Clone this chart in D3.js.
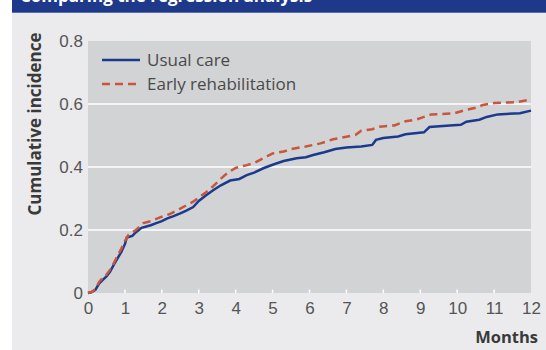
<!DOCTYPE html>
<html><head><meta charset="utf-8">
<script src="https://cdn.jsdelivr.net/npm/d3@7"></script>
<style>
html,body{margin:0;padding:0;background:#fff;}
svg{display:block;font-family:"Open Sans","Noto Sans",sans-serif;}
</style></head>
<body>
<script>
const titleText = "Comparing the regression analysis";
const yLabel = "Cumulative incidence";
const xLabel = "Months";
const seriesNames = ["Usual care", "Early rehabilitation"];
const xTicks = [0,1,2,3,4,5,6,7,8,9,10,11,12];
const yTicks = [0,0.2,0.4,0.6,0.8];
const yTickLabels = ["0","0.2","0.4","0.6","0.8"];

const usualMonths = [0,0.1,0.2,0.3,0.4,0.5,0.6,0.7,0.8,0.9,1.0,1.05,1.2,1.3,1.45,1.7,1.85,2.0,2.15,2.3,2.5,2.65,2.85,3.0,3.2,3.4,3.6,3.85,4.1,4.3,4.5,4.75,5.0,5.3,5.65,5.9,6.1,6.4,6.7,7.0,7.4,7.7,7.8,8.0,8.4,8.6,9.1,9.25,9.8,10.1,10.25,10.6,10.8,11.1,11.7,12.0];
const usualValues = [0,0.003,0.01,0.03,0.042,0.053,0.068,0.09,0.11,0.13,0.155,0.176,0.181,0.193,0.207,0.215,0.222,0.228,0.237,0.243,0.253,0.261,0.273,0.292,0.31,0.327,0.342,0.357,0.362,0.374,0.382,0.396,0.407,0.419,0.428,0.431,0.438,0.447,0.457,0.462,0.465,0.47,0.486,0.492,0.497,0.504,0.51,0.527,0.532,0.534,0.544,0.55,0.559,0.567,0.571,0.579];

const earlyMonths = [0,0.1,0.2,0.3,0.4,0.5,0.6,0.7,0.8,0.9,1.0,1.1,1.3,1.5,1.7,1.95,2.2,2.5,2.85,3.0,3.2,3.4,3.6,3.8,4.0,4.3,4.5,4.75,5.0,5.3,5.5,5.9,6.3,6.64,7.0,7.25,7.4,7.7,7.9,8.3,8.6,8.9,9.3,9.9,10.2,10.5,10.7,11.0,11.6,11.9,12.0];
const earlyValues = [0,0.003,0.012,0.035,0.048,0.058,0.074,0.095,0.118,0.14,0.165,0.185,0.2,0.222,0.228,0.24,0.25,0.268,0.29,0.303,0.32,0.34,0.363,0.383,0.397,0.406,0.413,0.428,0.443,0.449,0.457,0.465,0.475,0.488,0.496,0.502,0.515,0.52,0.528,0.532,0.545,0.551,0.567,0.57,0.58,0.588,0.597,0.603,0.606,0.612,0.616];

const W = 546, H = 350;
const colors = {usual:"#1b3a8e", early:"#c9553c", text:"#555", bold:"#3a3a3a"};
const svg = d3.select("body").append("svg").attr("width",W).attr("height",H);

// backgrounds
svg.append("rect").attr("x",0).attr("y",0).attr("width",W).attr("height",H).attr("fill","#ffffff");
svg.append("rect").attr("x",12).attr("y",0).attr("width",W-12).attr("height",H).attr("fill","#ebebed");
svg.append("rect").attr("x",12).attr("y",0).attr("width",W-12).attr("height",12.7).attr("fill","#1e388a");
svg.append("clipPath").attr("id","tclip").append("rect").attr("x",12).attr("y",0).attr("width",W-12).attr("height",12.7);
svg.append("text").attr("x",20).attr("y",1.5).attr("clip-path","url(#tclip)")
  .attr("fill","#fff").attr("font-weight","bold").attr("font-size",17).text(titleText);

const x = d3.scaleLinear().domain([0,12]).range([88,531]);
const y = d3.scaleLinear().domain([0,0.8]).range([293,41]);

svg.append("rect").attr("x",x(0)).attr("y",y(0.8)).attr("width",x(12)-x(0)).attr("height",y(0)-y(0.8)).attr("fill","#d2d3d5");

// gridlines
svg.append("g").selectAll("line").data(yTicks.filter(v=>v>0 && v<0.8)).join("line")
  .attr("x1",x(0)).attr("x2",x(12)).attr("y1",d=>y(d)).attr("y2",d=>y(d))
  .attr("stroke","#fff").attr("stroke-width",1.6);

// x axis
const xAxis = d3.axisBottom(x).tickValues(xTicks).tickSize(0).tickPadding(0).tickFormat(d3.format("d"));
const gx = svg.append("g").attr("transform",`translate(0,${y(0)})`).call(xAxis);
gx.select(".domain").remove();
gx.selectAll("text").attr("font-size",17).attr("fill",colors.text).attr("dy",null).attr("y",21)
  .attr("font-family","inherit");
// white inner tick marks
svg.append("g").selectAll("line").data(xTicks.filter(v=>v>0&&v<12)).join("line")
  .attr("x1",d=>x(d)).attr("x2",d=>x(d)).attr("y1",y(0)).attr("y2",y(0)-3.5)
  .attr("stroke","#fff").attr("stroke-width",1.5);

// y axis
const yAxis = d3.axisLeft(y).tickValues(yTicks).tickSize(0).tickPadding(5)
  .tickFormat((d,i)=>yTickLabels[i]);
const gy = svg.append("g").attr("transform",`translate(${x(0)},0)`).call(yAxis);
gy.select(".domain").remove();
gy.selectAll("text").attr("font-size",17).attr("fill",colors.text).attr("font-family","inherit");

// axis labels
svg.append("text").attr("transform","translate(41,124) rotate(-90)").attr("text-anchor","middle")
  .attr("font-weight","bold").attr("font-size",17).attr("fill",colors.bold).text(yLabel);
svg.append("text").attr("x",538).attr("y",343).attr("text-anchor","end")
  .attr("font-weight","bold").attr("font-size",16.5).attr("fill",colors.bold).text(xLabel);

// lines
const line = d3.line().x(d=>x(d[0])).y(d=>y(d[1]));
const usual = usualMonths.map((m,i)=>[m,usualValues[i]]);
const early = earlyMonths.map((m,i)=>[m,earlyValues[i]]);
svg.append("path").datum(usual).attr("d",line).attr("fill","none").attr("stroke",colors.usual)
  .attr("stroke-width",2.5);
svg.append("path").datum(early).attr("d",line).attr("fill","none").attr("stroke",colors.early)
  .attr("stroke-width",2.5).attr("stroke-dasharray","8,5");

// legend
const leg = svg.append("g");
const legItems = [{name:seriesNames[0],c:colors.usual,dash:null},{name:seriesNames[1],c:colors.early,dash:"8,5"}];
legItems.forEach((it,i)=>{
  const ly = 60 + i*24;
  leg.append("line").attr("x1",102).attr("x2",140).attr("y1",ly).attr("y2",ly)
    .attr("stroke",it.c).attr("stroke-width",2.5).attr("stroke-dasharray",it.dash);
  leg.append("text").attr("x",147).attr("y",ly+6).attr("font-size",17).attr("fill","#4a4a4a").text(it.name);
});
</script>
</body></html>
